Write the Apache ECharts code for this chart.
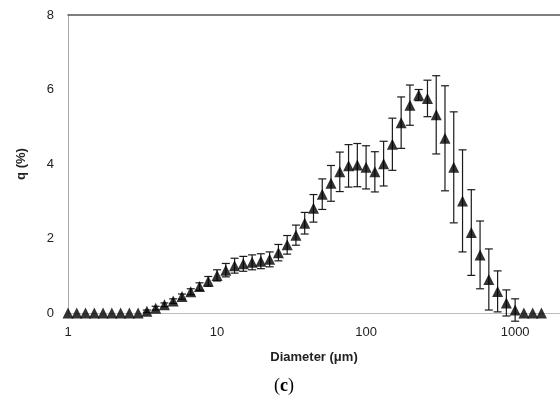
<!DOCTYPE html>
<html>
<head>
<meta charset="utf-8">
<script src="https://cdn.jsdelivr.net/npm/echarts@6/dist/echarts.min.js"></script>
<style>
html,body{margin:0;padding:0;background:#fff;}
#chart{width:560px;height:401px;}
</style>
</head>
<body>
<div id="chart"></div>
<script>
const diameters = [1.000,1.145,1.311,1.501,1.719,1.968,2.254,2.581,2.955,3.383,3.874,4.437,5.080,5.817,6.661,7.627,8.733,10.00,11.45,13.11,15.01,17.19,19.68,22.54,25.81,29.55,33.83,38.74,44.37,50.80,58.17,66.61,76.27,87.33,100.0,114.5,131.1,150.1,171.9,196.8,225.4,258.1,295.5,338.3,387.4,443.7,508.0,581.7,666.1,762.7,873.3,1000,1145,1311,1501];
const qValues = [0,0,0,0,0,0,0,0,0,0.05,0.13,0.22,0.32,0.44,0.57,0.71,0.85,1.01,1.15,1.27,1.32,1.36,1.39,1.44,1.62,1.83,2.09,2.41,2.81,3.19,3.48,3.79,3.95,3.97,3.91,3.79,4.01,4.53,5.11,5.58,5.85,5.76,5.32,4.69,3.91,3.01,2.16,1.56,0.90,0.58,0.27,0.08,0,0,0];
const qErr = [0,0,0,0,0,0,0,0,0,0.03,0.05,0.05,0.06,0.07,0.08,0.10,0.13,0.15,0.18,0.20,0.20,0.20,0.20,0.20,0.22,0.25,0.27,0.29,0.37,0.41,0.48,0.53,0.57,0.58,0.58,0.54,0.60,0.70,0.69,0.54,0.15,0.49,1.05,1.41,1.49,1.37,1.15,0.91,0.82,0.55,0.35,0.30,0,0,0];
const xTicks = [1,10,100,1000];
const yTicks = [0,2,4,6,8];

const chart = echarts.init(document.getElementById('chart'), null, {renderer:'canvas'});
const pts = diameters.map((d,i)=>[d,qValues[i]]);
const errs = diameters.map((d,i)=>[d,qValues[i]-qErr[i],qValues[i]+qErr[i]]);
const labelFont = {fontFamily:'Liberation Sans, Arial, sans-serif', fontSize:13, color:'#222'};

chart.setOption({
  animation:false,
  backgroundColor:'#fff',
  grid:{left:68, top:15, width:503, height:298},
  xAxis:[{
    type:'log', logBase:10, min:1, max:2000,
    axisLine:{show:true, lineStyle:{color:'#bdbdbd', width:1}},
    axisTick:{show:false},
    splitLine:{show:false},
    axisLabel:Object.assign({margin:13, showMaxLabel:false, formatter:v=> xTicks.includes(Math.round(v)) ? String(Math.round(v)) : ''}, labelFont),
    name:'Diameter (μm)', nameLocation:'middle', nameGap:38,
    nameTextStyle:{fontFamily:'Liberation Sans, Arial, sans-serif', fontSize:13, fontWeight:'bold', color:'#222'}
  },{
    type:'log', logBase:10, min:1, max:2000, position:'top',
    axisLine:{show:true, lineStyle:{color:'#555', width:1.5}},
    axisTick:{show:false}, axisLabel:{show:false}, splitLine:{show:false}
  }],
  yAxis:{
    type:'value', min:0, max:8, interval:2,
    axisLine:{show:true, lineStyle:{color:'#a8a8a8', width:1}},
    axisTick:{show:false},
    splitLine:{show:false},
    axisLabel:Object.assign({margin:14, formatter:v=> yTicks.includes(v) ? String(v) : ''}, labelFont),
    name:'q (%)', nameLocation:'middle', nameGap:40, nameRotate:90,
    nameTextStyle:{fontFamily:'Liberation Sans, Arial, sans-serif', fontSize:13, fontWeight:'bold', color:'#222'}
  },
  graphic:[{
    type:'text', left:274, top:377,
    style:{
      text:'({c|c})', fill:'#000',
      font:'18px "Liberation Serif", "DejaVu Serif", serif',
      rich:{c:{fontWeight:'bold', fontSize:18, fontFamily:'Liberation Serif'}}
    }
  }],
  series:[{
    type:'custom',
    xAxisIndex:0,
    data:errs,
    encode:{x:0, y:[1,2]},
    renderItem:function(params, api){
      const x = api.value(0), lo = api.value(1), hi = api.value(2);
      if (hi - lo <= 0) return null;
      const p1 = api.coord([x, hi]);
      const p2 = api.coord([x, lo]);
      const hw = 4;
      const st = {stroke:'#1a1a1a', lineWidth:1.2};
      return {type:'group', children:[
        {type:'line', shape:{x1:p1[0], y1:p1[1], x2:p2[0], y2:p2[1]}, style:st},
        {type:'line', shape:{x1:p1[0]-hw, y1:p1[1], x2:p1[0]+hw, y2:p1[1]}, style:st},
        {type:'line', shape:{x1:p2[0]-hw, y1:p2[1], x2:p2[0]+hw, y2:p2[1]}, style:st}
      ]};
    },
    z:2
  },{
    type:'scatter',
    data:pts,
    symbol:'triangle',
    symbolSize:11,
    itemStyle:{color:'#000'},
    z:3
  }]
});
</script>
</body>
</html>
